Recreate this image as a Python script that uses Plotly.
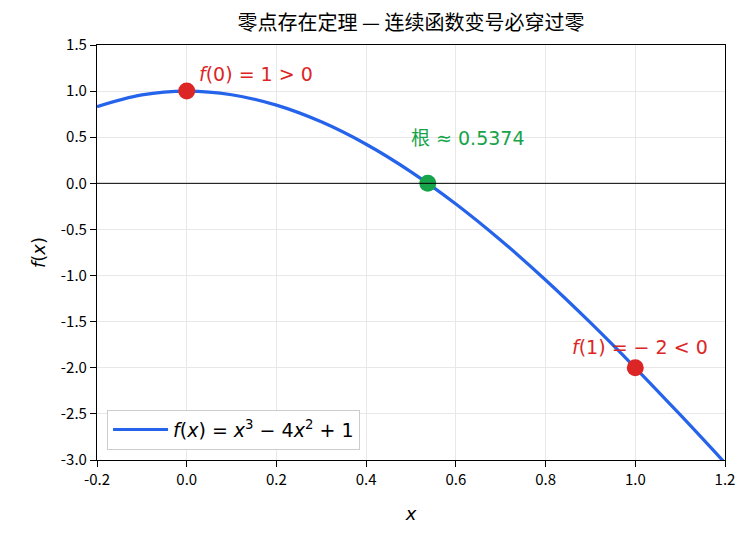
import plotly.graph_objects as go

# curve samples of f(x) = x^3 - 4x^2 + 1
x_vals = [-0.2, -0.1, 0.0, 0.1, 0.2, 0.3, 0.4, 0.5, 0.6, 0.7, 0.8, 0.9, 1.0, 1.1, 1.2]
y_vals = [0.832, 0.959, 1.0, 0.961, 0.848, 0.667, 0.424, 0.125, -0.224, -0.617, -1.048, -1.511, -2.0, -2.509, -3.032]

pt_x = [0.0, 0.5374, 1.0]
pt_y = [1.0, 0.0, -2.0]
pt_colors = ["#dc2626", "#16a34a", "#dc2626"]
pt_labels = ["<i>f</i>(0) = 1 > 0", "根 ≈ 0.5374", "<i>f</i>(1) = − 2 < 0"]

x_ticks = [-0.2, 0.0, 0.2, 0.4, 0.6, 0.8, 1.0, 1.2]
y_ticks = [1.5, 1.0, 0.5, 0.0, -0.5, -1.0, -1.5, -2.0, -2.5, -3.0]

FONT = "Noto Sans CJK SC"
MATH = "DejaVu Sans, Noto Sans CJK SC"

fig = go.Figure()
fig.add_trace(go.Scatter(
    x=x_vals, y=y_vals, mode="lines", line=dict(color="#2563eb", width=3.2, shape="spline"),
    name="<i>f</i>(<i>x</i>) = <i>x</i><sup>3</sup> − 4<i>x</i><sup>2</sup> + 1",
))
fig.add_trace(go.Scatter(
    x=pt_x, y=pt_y, mode="markers", marker=dict(color=pt_colors, size=17),
    showlegend=False, hoverinfo="skip",
))

offsets = [(10, -17, "left"), (40, -45, "center"), (5, -21, "center")]
for xv, yv, lab, col, (ax, ay, anc) in zip(pt_x, pt_y, pt_labels, pt_colors, offsets):
    fig.add_annotation(x=xv, y=yv, text=lab, showarrow=False, xshift=ax, yshift=-ay,
                       xanchor=anc, yanchor="middle",
                       font=dict(color=col, size=19, family=MATH))

fig.add_shape(type="line", xref="paper", x0=0, x1=1, y0=0, y1=0,
              line=dict(color="black", width=1))

axis_common = dict(showline=True, linecolor="black", linewidth=1.2, mirror=True,
                   ticks="outside", ticklen=6, tickcolor="black",
                   showgrid=True, gridcolor="#e8e8e8", gridwidth=1, zeroline=False,
                   tickfont=dict(size=15, family=FONT, color="black"))

fig.update_layout(
    width=754, height=542,
    margin=dict(l=97, r=29, t=45, b=82),
    paper_bgcolor="white", plot_bgcolor="white",
    font=dict(family=FONT, color="black"),
    title=dict(text="零点存在定理 — 连续函数变号必穿过零", x=0.5, xref="paper", xanchor="center",
               y=0.958, yanchor="middle", font=dict(size=20, family=FONT)),
    xaxis=dict(range=[-0.2, 1.2], tickvals=x_ticks, ticktext=[f"{v:.1f}" for v in x_ticks],
               title=dict(text="<i>x</i>", font=dict(size=18, family=MATH), standoff=19), **axis_common),
    yaxis=dict(range=[-3.0, 1.5], tickvals=y_ticks, ticktext=[f"{v:.1f}" for v in y_ticks],
               title=dict(text="<i>f</i>(<i>x</i>)", font=dict(size=18, family=MATH), standoff=10), **axis_common),
    legend=dict(x=0.016, y=0.025, xanchor="left", yanchor="bottom",
                bgcolor="white", bordercolor="#cccccc", borderwidth=1,
                itemwidth=55,
                font=dict(size=19, family=MATH)),
    showlegend=True,
)

fig.write_html("out.html")
